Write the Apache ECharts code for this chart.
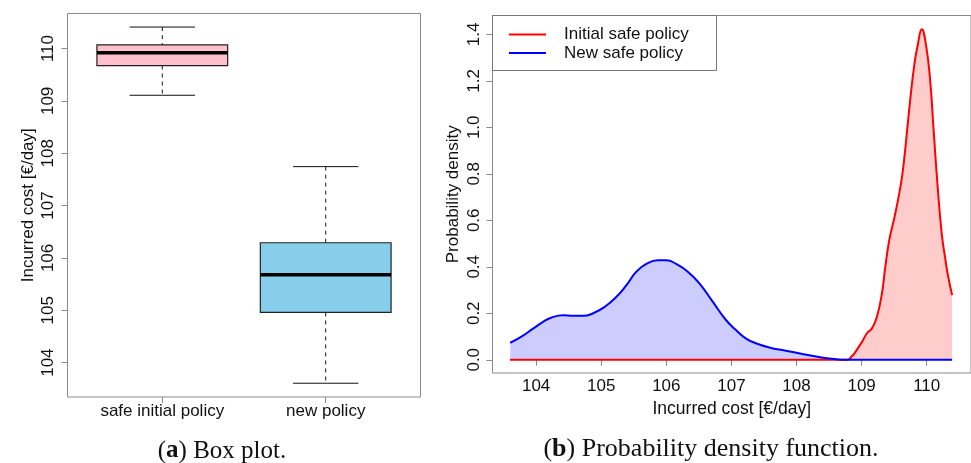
<!DOCTYPE html>
<html>
<head>
<meta charset="utf-8">
<script src="https://cdn.jsdelivr.net/npm/echarts@6/dist/echarts.min.js"></script>
<style>html,body{margin:0;padding:0;background:#fff;}#chart{width:971px;height:463px;}</style>
</head>
<body>
<div id="chart"></div>
<script>
// ---- Data ----
const boxCategories = ['safe initial policy', 'new policy'];
const boxLow    = [109.107, 103.606];
const boxQ1     = [109.675, 104.958];
const boxMedian = [109.920, 105.680];
const boxQ3     = [110.070, 106.290];
const boxHigh   = [110.410, 107.744];
const boxYTicks = [104, 105, 106, 107, 108, 109, 110];

const newPolicyX = [103.602,103.755,103.959,104.112,104.24,104.418,104.571,104.724,104.876,105.055,105.234,105.387,105.54,105.693,105.871,106.0,106.152,106.33,106.508,106.712,106.916,107.07,107.22,107.375,107.579,107.834,108.09,108.344,108.548,108.75,109.0,110.39];
const newPolicyY = [0.073,0.096,0.135,0.164,0.182,0.191,0.189,0.189,0.2,0.228,0.271,0.321,0.379,0.412,0.428,0.428,0.412,0.379,0.329,0.25,0.171,0.128,0.092,0.071,0.053,0.039,0.025,0.012,0.004,0,0,0];
const initialPolicyX = [103.6,108.5,108.7,108.776,108.853,108.905,109.006,109.082,109.159,109.235,109.312,109.364,109.425,109.506,109.578,109.628,109.679,109.746,109.812,109.862,109.924,109.985,110.052,110.102,110.168,110.23,110.28,110.33,110.39];
const initialPolicyY = [0,0,0,0,0.016,0.034,0.077,0.114,0.135,0.185,0.286,0.40,0.515,0.615,0.716,0.802,0.931,1.117,1.275,1.354,1.422,1.361,1.204,1.003,0.744,0.544,0.443,0.357,0.278];
const densXTicks = [104, 105, 106, 107, 108, 109, 110];
const densYTicks = [0, 0.2, 0.4, 0.6, 0.8, 1.0, 1.2, 1.4];
const seriesNames = ['Initial safe policy', 'New safe policy'];
const captionA = 'Box plot.';
const captionB = 'Probability density function.';

// ---- Styles ----
const SANS = 'Liberation Sans';
const FRAME = '#8a8a8a';
const boxFill = ['#FFC0CB', '#87CEEB'];

const boxData = boxCategories.map((c, i) => [i + 1, boxLow[i], boxQ1[i], boxMedian[i], boxQ3[i], boxHigh[i]]);
const pairs = (xs, ys) => xs.map((x, i) => [x, ys[i]]);

function renderBox(params, api) {
  const x = api.value(0);
  const lo = api.coord([x, api.value(1)]);
  const q1 = api.coord([x, api.value(2)]);
  const md = api.coord([x, api.value(3)]);
  const q3 = api.coord([x, api.value(4)]);
  const hi = api.coord([x, api.value(5)]);
  const halfBox = api.size([0.4, 0])[0];
  const halfCap = api.size([0.2, 0])[0];
  const cx = lo[0];
  const dashed = {stroke: '#111', lineWidth: 1, lineDash: [4, 4]};
  const solid = {stroke: '#111', lineWidth: 1};
  return {
    type: 'group',
    children: [
      {type: 'line', shape: {x1: cx, y1: hi[1], x2: cx, y2: q3[1]}, style: dashed},
      {type: 'line', shape: {x1: cx, y1: q1[1], x2: cx, y2: lo[1]}, style: dashed},
      {type: 'line', shape: {x1: cx - halfCap, y1: hi[1], x2: cx + halfCap, y2: hi[1]}, style: solid},
      {type: 'line', shape: {x1: cx - halfCap, y1: lo[1], x2: cx + halfCap, y2: lo[1]}, style: solid},
      {type: 'rect', shape: {x: cx - halfBox, y: q3[1], width: 2 * halfBox, height: q1[1] - q3[1]},
        style: {fill: boxFill[params.dataIndex], stroke: '#222', lineWidth: 1.2}},
      {type: 'line', shape: {x1: cx - halfBox, y1: md[1], x2: cx + halfBox, y2: md[1]}, style: {stroke: '#000', lineWidth: 3.5}}
    ]
  };
}

const chart = echarts.init(document.getElementById('chart'), null, {renderer: 'canvas'});
const axisText = {color: '#111', fontFamily: SANS, fontSize: 17};
const SMOOTH = 0.5;

chart.setOption({
  animation: false,
  backgroundColor: '#fff',
  grid: [
    {left: 67.5, top: 13.5, width: 353, height: 383.5, show: true, borderColor: FRAME, borderWidth: 1, backgroundColor: 'transparent'},
    {left: 492.5, top: 15.5, width: 480.5, height: 357.5, show: true, borderColor: FRAME, borderWidth: 1, backgroundColor: 'transparent'}
  ],
  xAxis: [
    {gridIndex: 0, type: 'value', min: 0.42, max: 2.58,
      axisLine: {show: false}, splitLine: {show: false},
      axisTick: {show: true, length: 6, lineStyle: {color: FRAME}, customValues: [1, 2]},
      axisLabel: Object.assign({margin: 6, customValues: [1, 2], formatter: v => boxCategories[Math.round(v) - 1] || ''}, axisText)},
    {gridIndex: 1, type: 'value', min: 103.33, max: 110.68,
      axisLine: {show: false}, splitLine: {show: false},
      axisTick: {show: true, length: 6, lineStyle: {color: FRAME}, customValues: densXTicks},
      axisLabel: Object.assign({margin: 5, customValues: densXTicks, formatter: v => String(Math.round(v))}, axisText),
      name: 'Incurred cost [€/day]', nameLocation: 'middle', nameGap: 27,
      nameTextStyle: {color: '#111', fontFamily: SANS, fontSize: 17.5}}
  ],
  yAxis: [
    {gridIndex: 0, type: 'value', min: 103.343, max: 110.669,
      axisLine: {show: false}, splitLine: {show: false},
      axisTick: {show: true, length: 6, lineStyle: {color: FRAME}, customValues: boxYTicks},
      axisLabel: Object.assign({margin: 11, rotate: 90, customValues: boxYTicks, formatter: v => String(Math.round(v))}, axisText),
      name: 'Incurred cost [€/day]', nameLocation: 'middle', nameGap: 31, nameRotate: 90,
      nameTextStyle: axisText},
    {gridIndex: 1, type: 'value', min: -0.057, max: 1.481,
      axisLine: {show: false}, splitLine: {show: false},
      axisTick: {show: true, length: 6, lineStyle: {color: FRAME}, customValues: densYTicks},
      axisLabel: Object.assign({margin: 10, rotate: 90, customValues: densYTicks, formatter: v => v.toFixed(1)}, axisText),
      name: 'Probability density', nameLocation: 'middle', nameGap: 31, nameRotate: 90,
      nameTextStyle: axisText}
  ],
  legend: {
    data: seriesNames.map(n => ({name: n, icon: 'rect'})),
    orient: 'vertical', left: 509, top: 26, padding: 0,
    itemWidth: 37, itemHeight: 2, itemGap: 1.6,
    textStyle: {color: '#111', fontFamily: SANS, fontSize: 17, padding: [0, 0, 0, 13], lineHeight: 17},
    selectedMode: false
  },
  series: [
    {type: 'custom', xAxisIndex: 0, yAxisIndex: 0, renderItem: renderBox, data: boxData, z: 3},
    {name: 'newFill', type: 'line', xAxisIndex: 1, yAxisIndex: 1, data: pairs(newPolicyX, newPolicyY),
      symbol: 'none', smooth: SMOOTH, lineStyle: {width: 0, opacity: 0},
      areaStyle: {color: '#ccccff', opacity: 1}, z: 1, silent: true},
    {name: 'initFill', type: 'line', xAxisIndex: 1, yAxisIndex: 1, data: pairs(initialPolicyX, initialPolicyY),
      symbol: 'none', smooth: SMOOTH, lineStyle: {width: 0, opacity: 0},
      areaStyle: {color: '#ffcccc', opacity: 1}, z: 1, silent: true},
    {name: seriesNames[0], type: 'line', xAxisIndex: 1, yAxisIndex: 1, data: pairs(initialPolicyX, initialPolicyY),
      symbol: 'none', smooth: SMOOTH, color: '#ff0000', lineStyle: {width: 2, color: '#ff0000'}, z: 3},
    {name: seriesNames[1], type: 'line', xAxisIndex: 1, yAxisIndex: 1, data: pairs(newPolicyX, newPolicyY),
      symbol: 'none', smooth: SMOOTH, color: '#0000ff', lineStyle: {width: 2, color: '#0000ff'}, z: 4}
  ],
  graphic: [
    {type: 'rect', shape: {x: 492.5, y: 15.5, width: 224, height: 55}, style: {fill: 'transparent', stroke: '#777', lineWidth: 1}, z: 10, silent: true},
    {type: 'text', x: 222, y: 451, style: {text: '{p|(}{b|a}{p|) ' + captionA + '}', align: 'center', verticalAlign: 'middle',
      rich: {p: {fontFamily: 'Liberation Serif', fontSize: 25, fill: '#111'}, b: {fontFamily: 'Liberation Serif', fontSize: 25, fontWeight: 'bold', fill: '#111'}}}},
    {type: 'text', x: 711, y: 449, style: {text: '{p|(}{b|b}{p|) ' + captionB + '}', align: 'center', verticalAlign: 'middle',
      rich: {p: {fontFamily: 'Liberation Serif', fontSize: 26, fill: '#111'}, b: {fontFamily: 'Liberation Serif', fontSize: 26, fontWeight: 'bold', fill: '#111'}}}}
  ]
});
</script>
</body>
</html>
